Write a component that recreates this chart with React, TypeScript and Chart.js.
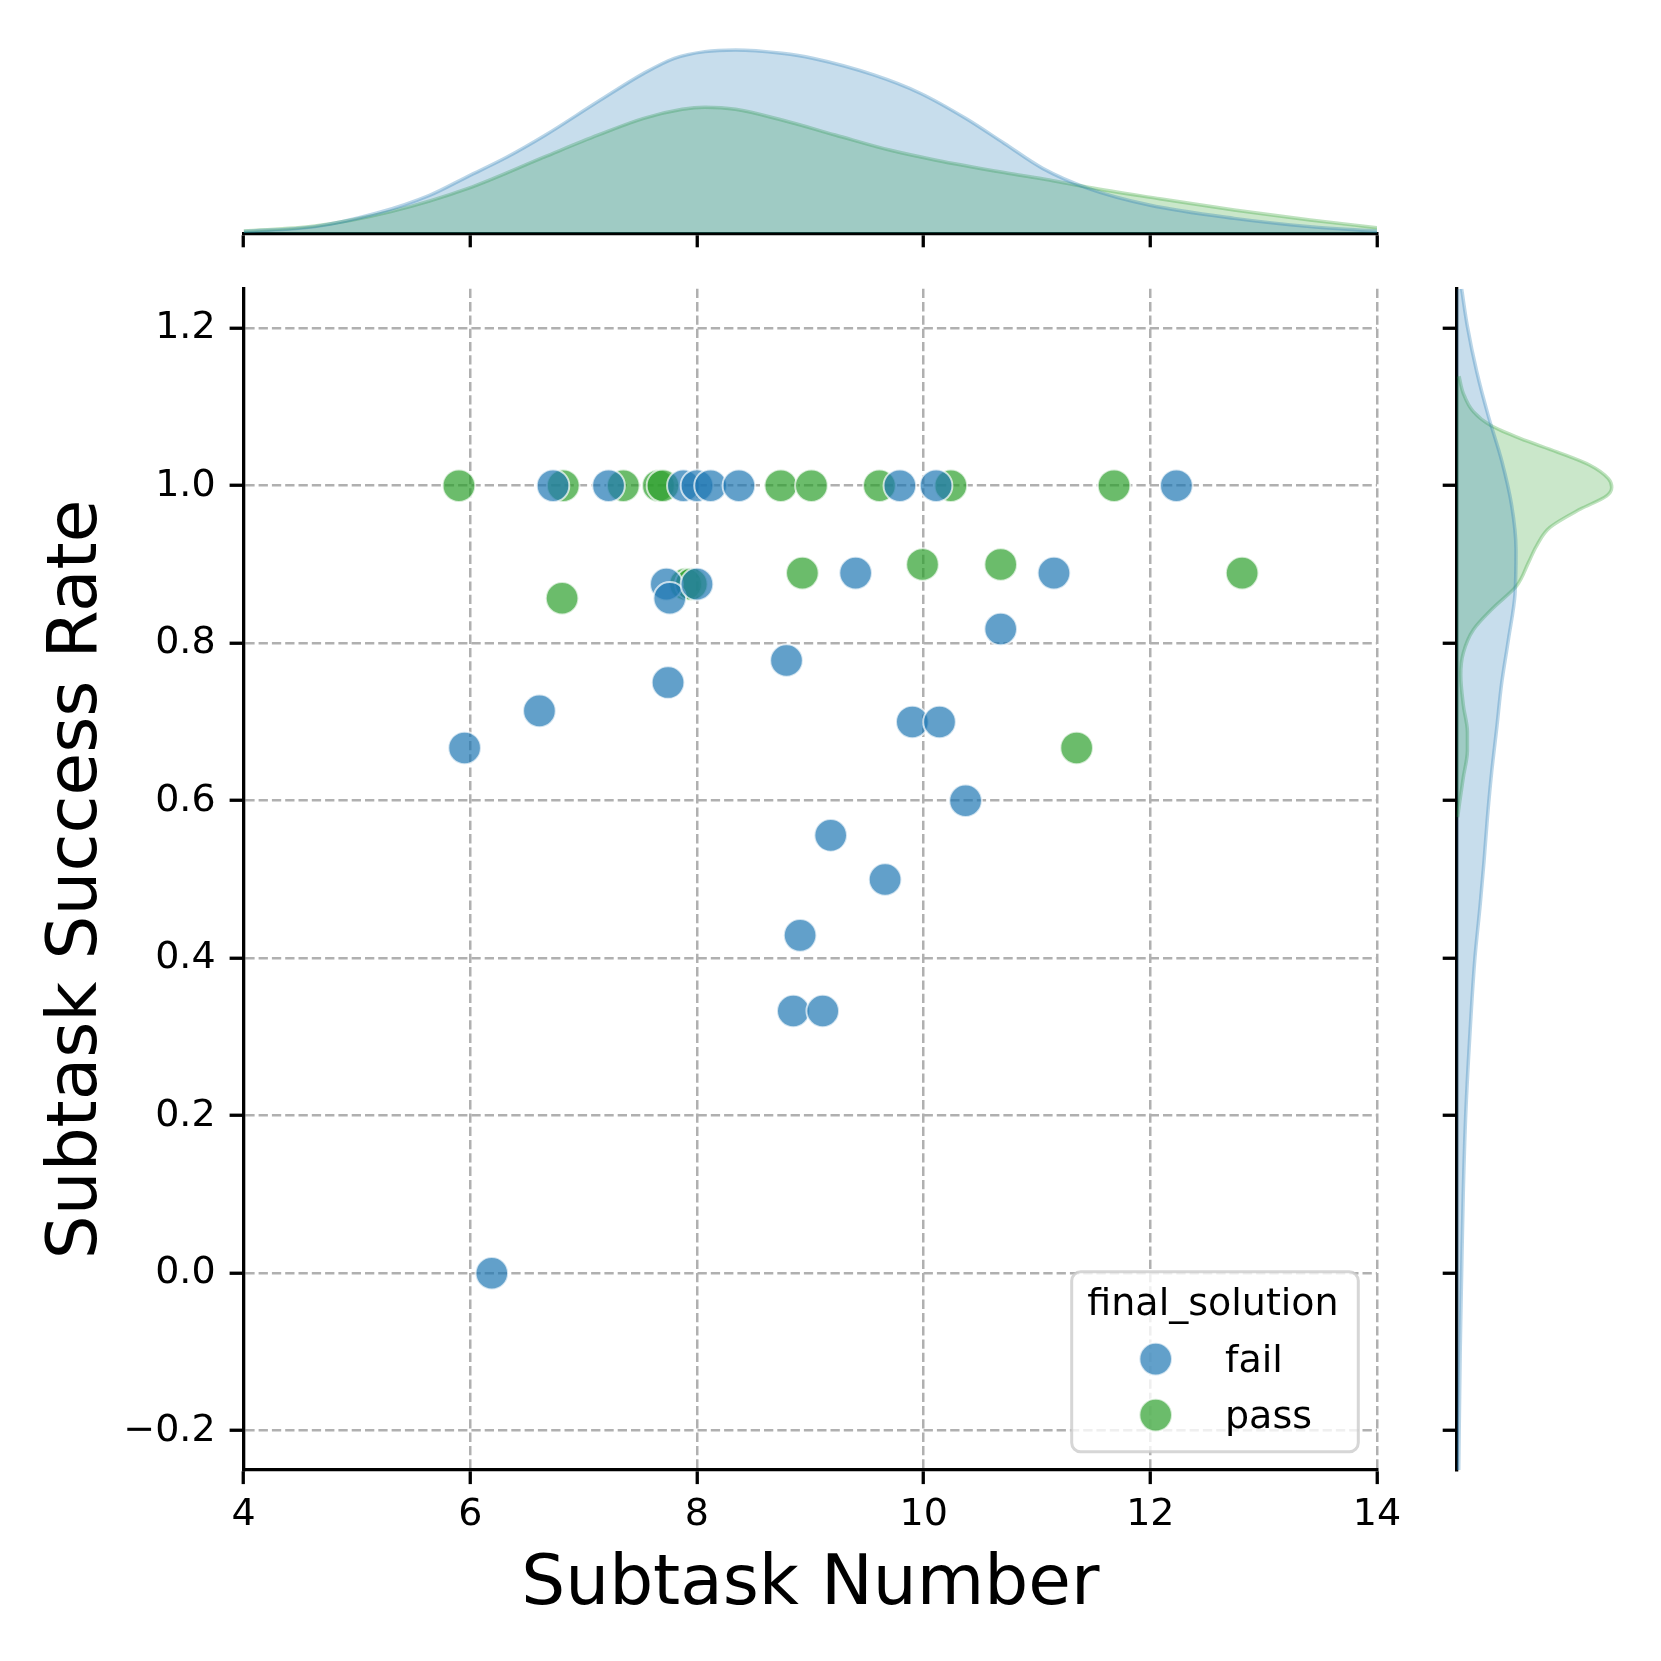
import React, { useEffect, useRef } from 'react';
import { Chart, registerables } from 'chart.js';

Chart.register(...registerables);

// ---------------- data ----------------
const X_TICKS = [4, 6, 8, 10, 12, 14];
const Y_TICKS = [-0.2, 0, 0.2, 0.4, 0.6, 0.8, 1.0, 1.2];

const FAIL_X = [5.95, 6.19, 6.61, 6.73, 7.22, 7.73, 7.76, 7.745, 7.88, 8.0, 8.0, 8.12, 8.37, 8.79, 8.91, 8.85, 9.11, 9.18, 9.40, 9.66, 9.79, 9.90, 10.11, 10.14, 10.37, 10.68, 11.15, 12.23];
const FAIL_Y = [0.667, 0.0, 0.714, 1.0, 1.0, 0.875, 0.857, 0.75, 1.0, 1.0, 0.875, 1.0, 1.0, 0.778, 0.429, 0.333, 0.333, 0.556, 0.889, 0.5, 1.0, 0.7, 1.0, 0.7, 0.6, 0.818, 0.889, 1.0];

const PASS_X = [5.90, 6.81, 6.82, 7.35, 7.66, 7.70, 7.90, 7.95, 8.74, 8.93, 9.01, 9.61, 9.99, 10.24, 10.68, 11.35, 11.68, 12.81];
const PASS_Y = [1.0, 0.857, 1.0, 1.0, 1.0, 1.0, 0.875, 0.875, 1.0, 0.889, 1.0, 1.0, 0.9, 1.0, 0.9, 0.667, 1.0, 0.889];

// marginal density of Subtask Number (top)
const TOP_FAIL_X = [4.0, 4.63, 5.17, 5.64, 5.98, 6.32, 6.66, 7.13, 7.53, 7.8, 8.07, 8.34, 8.75, 9.02, 9.56, 9.97, 10.37, 10.71, 11.05, 11.45, 11.99, 12.74, 13.41, 14.0];
const TOP_FAIL_D = [0.0012, 0.0046, 0.0138, 0.0262, 0.0393, 0.0524, 0.0676, 0.091, 0.1103, 0.1207, 0.1253, 0.1264, 0.1241, 0.1207, 0.1092, 0.0966, 0.0793, 0.0621, 0.0448, 0.031, 0.0195, 0.0103, 0.0046, 0.0016];
const TOP_PASS_X = [4.0, 4.63, 5.3, 5.98, 6.66, 7.13, 7.53, 7.87, 8.07, 8.34, 8.75, 9.22, 9.7, 10.1, 10.71, 11.11, 11.45, 12.06, 12.74, 13.41, 14.0];
const TOP_PASS_D = [0.0016, 0.005, 0.015, 0.031, 0.0529, 0.0678, 0.0793, 0.0855, 0.0869, 0.0855, 0.0781, 0.0678, 0.0574, 0.0506, 0.0419, 0.0368, 0.0317, 0.0241, 0.0161, 0.0092, 0.0039];

// marginal density of Subtask Success Rate (right)
const RIGHT_FAIL_Y = [1.25, 1.202, 1.145, 1.088, 1.032, 0.975, 0.919, 0.862, 0.805, 0.749, 0.692, 0.636, 0.579, 0.522, 0.466, 0.401, 0.3, 0.2, 0.1, 0.0, -0.1, -0.25];
const RIGHT_FAIL_D = [0.0034, 0.0074, 0.0138, 0.0219, 0.031, 0.0379, 0.0409, 0.0402, 0.0357, 0.031, 0.0276, 0.0241, 0.0212, 0.0188, 0.0161, 0.0126, 0.009, 0.0062, 0.0045, 0.0034, 0.0024, 0.0014];
const RIGHT_PASS_Y = [1.139, 1.117, 1.094, 1.077, 1.06, 1.043, 1.026, 1.009, 0.998, 0.987, 0.97, 0.947, 0.924, 0.902, 0.873, 0.845, 0.817, 0.788, 0.76, 0.721, 0.687, 0.664, 0.63, 0.596, 0.579];
const RIGHT_PASS_D = [0.0016, 0.0046, 0.0115, 0.023, 0.0437, 0.069, 0.0919, 0.1046, 0.1069, 0.1034, 0.085, 0.0643, 0.0552, 0.0494, 0.0414, 0.0253, 0.0115, 0.0046, 0.0028, 0.0046, 0.0074, 0.0074, 0.0046, 0.0019, 0.0007];

const SERIES = ['fail', 'pass'];

// ---------------- styles / layout ----------------
const W = 1661;
const H = 1661;
const FONT = 'DejaVu Sans';
const PLOT_LEFT = 243.6;
const PLOT_RIGHT = 1377;
const PLOT_TOP = 288.8;
const PLOT_BOTTOM = 1470.1;
const TOP_CANVAS_H = 300;
const TOP_MARG_TOP = 41;
const TOP_MARG_BOTTOM = 233.3;
const RIGHT_CANVAS_LEFT = 1380;
const RIGHT_AXIS_X = 1456.7;
const PX_PER_DENSITY = 1450;
const LABEL_SIZE = 69.3;

const BLUE = [31, 119, 180];
const GREEN = [44, 160, 44];
const rgba = (c: number[], a: number) => `rgba(${c[0]},${c[1]},${c[2]},${a})`;
const SERIES_COLORS = [BLUE, GREEN];

const GRID_COLOR = '#b0b0b0';
const AXIS_W = 3.3;
const TICK_LEN = 14;

const zeroPad = (s: any) => {
  s.paddingLeft = 0;
  s.paddingRight = 0;
  s.paddingTop = 0;
  s.paddingBottom = 0;
};

const fmtY = (v: any) => {
  const n = Number(v);
  const s = Math.abs(n).toFixed(1);
  return n < -1e-9 ? '\u2212' + s : s;
};

const legendPlugin = {
  id: 'jointLegend',
  afterDraw(chart: any) {
    const { ctx, chartArea } = chart;
    const w = 286.6;
    const h = 180;
    const x0 = chartArea.right - 18.7 - w;
    const y0 = chartArea.bottom - 18.3 - h;
    ctx.save();
    ctx.beginPath();
    ctx.roundRect(x0, y0, w, h, 9);
    ctx.fillStyle = 'rgba(255,255,255,0.8)';
    ctx.fill();
    ctx.lineWidth = 3;
    ctx.strokeStyle = 'rgba(204,204,204,0.8)';
    ctx.stroke();

    ctx.fillStyle = '#000';
    ctx.font = `38px "${FONT}"`;
    ctx.textBaseline = 'alphabetic';
    ctx.textAlign = 'center';
    ctx.fillText('final_solution', x0 + w / 2 - 2, y0 + 43.3);

    SERIES.forEach((name, i) => {
      const cy = y0 + 87.3 + i * 56;
      ctx.beginPath();
      ctx.arc(x0 + 84, cy, 16.3, 0, Math.PI * 2);
      ctx.fillStyle = rgba(SERIES_COLORS[i], 0.7);
      ctx.fill();
      ctx.lineWidth = 2;
      ctx.strokeStyle = 'rgba(255,255,255,0.7)';
      ctx.stroke();
      ctx.fillStyle = '#000';
      ctx.textAlign = 'left';
      ctx.fillText(name, x0 + 153.3, cy + 12.7);
    });
    ctx.restore();
  },
};

const axisGrid = {
  color: GRID_COLOR,
  lineWidth: 2.5,
  tickColor: '#000',
  tickWidth: AXIS_W,
  tickLength: TICK_LEN,
  tickBorderDash: [],
};
const axisBorder = { display: true, color: '#000', width: AXIS_W, dash: [9.3, 4] };

function mainConfig(): any {
  return {
    type: 'scatter',
    data: {
      datasets: [
        {
          label: SERIES[0],
          data: FAIL_X.map((x, i) => ({ x, y: FAIL_Y[i] })),
          backgroundColor: rgba(BLUE, 0.7),
          borderColor: 'rgba(255,255,255,0.7)',
          borderWidth: 2,
          pointRadius: 16.3,
          pointHoverRadius: 16.3,
        },
        {
          label: SERIES[1],
          data: PASS_X.map((x, i) => ({ x, y: PASS_Y[i] })),
          backgroundColor: rgba(GREEN, 0.7),
          borderColor: 'rgba(255,255,255,0.7)',
          borderWidth: 2,
          pointRadius: 16.3,
          pointHoverRadius: 16.3,
        },
      ],
    },
    options: {
      responsive: false,
      maintainAspectRatio: false,
      animation: false,
      events: [],
      layout: { padding: { left: 0, top: PLOT_TOP, right: W - PLOT_RIGHT, bottom: 0 } },
      plugins: { legend: { display: false }, tooltip: { enabled: false } },
      scales: {
        x: {
          type: 'linear',
          position: 'bottom',
          min: 4,
          max: 14,
          afterBuildTicks: (s: any) => {
            s.ticks = X_TICKS.map((v) => ({ value: v }));
          },
          ticks: {
            font: { family: FONT, size: 38 },
            color: '#000',
            padding: 8.4,
            maxRotation: 0,
            autoSkip: false,
            callback: (v: any) => String(v),
          },
          grid: axisGrid,
          border: axisBorder,
          title: {
            display: true,
            text: 'Subtask Number',
            font: { family: FONT, size: LABEL_SIZE },
            color: '#000',
            padding: { top: 0, bottom: 33.5 },
          },
          afterFit: (s: any) => {
            s.height = H - PLOT_BOTTOM;
            zeroPad(s);
          },
        },
        y: {
          type: 'linear',
          position: 'left',
          min: -0.25,
          max: 1.25,
          afterBuildTicks: (s: any) => {
            s.ticks = Y_TICKS.map((v) => ({ value: v }));
          },
          ticks: {
            font: { family: FONT, size: 38 },
            color: '#000',
            padding: 14,
            autoSkip: false,
            callback: fmtY,
          },
          grid: axisGrid,
          border: axisBorder,
          title: {
            display: true,
            text: 'Subtask Success Rate',
            font: { family: FONT, size: LABEL_SIZE },
            color: '#000',
            padding: { top: 36, bottom: 0 },
          },
          afterFit: (s: any) => {
            s.width = PLOT_LEFT;
            zeroPad(s);
          },
        },
      },
    },
    plugins: [legendPlugin],
  };
}

const kdeStyle = (c: number[]) => ({
  fill: 'origin',
  backgroundColor: rgba(c, 0.25),
  borderColor: rgba(c, 0.3),
  borderWidth: 3.5,
  pointRadius: 0,
  cubicInterpolationMode: 'monotone',
});

function topConfig(): any {
  return {
    type: 'line',
    data: {
      datasets: [
        { label: SERIES[0], data: TOP_FAIL_X.map((x, i) => ({ x, y: TOP_FAIL_D[i] })), ...kdeStyle(BLUE) },
        { label: SERIES[1], data: TOP_PASS_X.map((x, i) => ({ x, y: TOP_PASS_D[i] })), ...kdeStyle(GREEN) },
      ],
    },
    options: {
      responsive: false,
      maintainAspectRatio: false,
      animation: false,
      events: [],
      layout: { padding: { left: PLOT_LEFT, right: W - PLOT_RIGHT, top: TOP_MARG_TOP, bottom: 0 } },
      plugins: { legend: { display: false }, tooltip: { enabled: false } },
      scales: {
        x: {
          type: 'linear',
          position: 'bottom',
          min: 4,
          max: 14,
          afterBuildTicks: (s: any) => {
            s.ticks = X_TICKS.map((v) => ({ value: v }));
          },
          ticks: { display: false },
          grid: { ...axisGrid, drawOnChartArea: false, drawTicks: true },
          border: { display: true, color: '#000', width: AXIS_W },
          afterFit: (s: any) => {
            s.height = TOP_CANVAS_H - TOP_MARG_BOTTOM;
            zeroPad(s);
          },
        },
        y: {
          type: 'linear',
          display: false,
          min: 0,
          max: (TOP_MARG_BOTTOM - TOP_MARG_TOP) / PX_PER_DENSITY,
        },
      },
    },
  };
}

function rightConfig(): any {
  return {
    type: 'line',
    data: {
      datasets: [
        { label: SERIES[0], data: RIGHT_FAIL_Y.map((y, i) => ({ x: RIGHT_FAIL_D[i], y })), ...kdeStyle(BLUE) },
        { label: SERIES[1], data: RIGHT_PASS_Y.map((y, i) => ({ x: RIGHT_PASS_D[i], y })), ...kdeStyle(GREEN) },
      ],
    },
    options: {
      indexAxis: 'y',
      responsive: false,
      maintainAspectRatio: false,
      animation: false,
      events: [],
      layout: { padding: { left: 0, right: 0, top: PLOT_TOP, bottom: H - PLOT_BOTTOM } },
      plugins: { legend: { display: false }, tooltip: { enabled: false } },
      scales: {
        x: {
          type: 'linear',
          display: false,
          min: 0,
          max: (W - RIGHT_AXIS_X) / PX_PER_DENSITY,
        },
        y: {
          type: 'linear',
          position: 'left',
          min: -0.25,
          max: 1.25,
          afterBuildTicks: (s: any) => {
            s.ticks = Y_TICKS.map((v) => ({ value: v }));
          },
          ticks: { display: false },
          grid: { ...axisGrid, drawOnChartArea: false, drawTicks: true },
          border: { display: true, color: '#000', width: AXIS_W },
          afterFit: (s: any) => {
            s.width = RIGHT_AXIS_X - RIGHT_CANVAS_LEFT;
            zeroPad(s);
          },
        },
      },
    },
  };
}

export default function App() {
  const mainRef = useRef<HTMLCanvasElement>(null);
  const topRef = useRef<HTMLCanvasElement>(null);
  const rightRef = useRef<HTMLCanvasElement>(null);

  useEffect(() => {
    Chart.defaults.font.family = FONT;
    Chart.defaults.color = '#000';
    const charts = [
      new Chart(mainRef.current as HTMLCanvasElement, mainConfig()),
      new Chart(topRef.current as HTMLCanvasElement, topConfig()),
      new Chart(rightRef.current as HTMLCanvasElement, rightConfig()),
    ];
    return () => charts.forEach((c) => c.destroy());
  }, []);

  return (
    <div style={{ position: 'absolute', left: 0, top: 0, width: W, height: H, background: '#fff', overflow: 'hidden' }}>
      <canvas ref={mainRef} width={W} height={H} style={{ position: 'absolute', left: 0, top: 0 }} />
      <canvas ref={topRef} width={W} height={TOP_CANVAS_H} style={{ position: 'absolute', left: 0, top: 0 }} />
      <canvas ref={rightRef} width={W - RIGHT_CANVAS_LEFT} height={H} style={{ position: 'absolute', left: RIGHT_CANVAS_LEFT, top: 0 }} />
    </div>
  );
}
